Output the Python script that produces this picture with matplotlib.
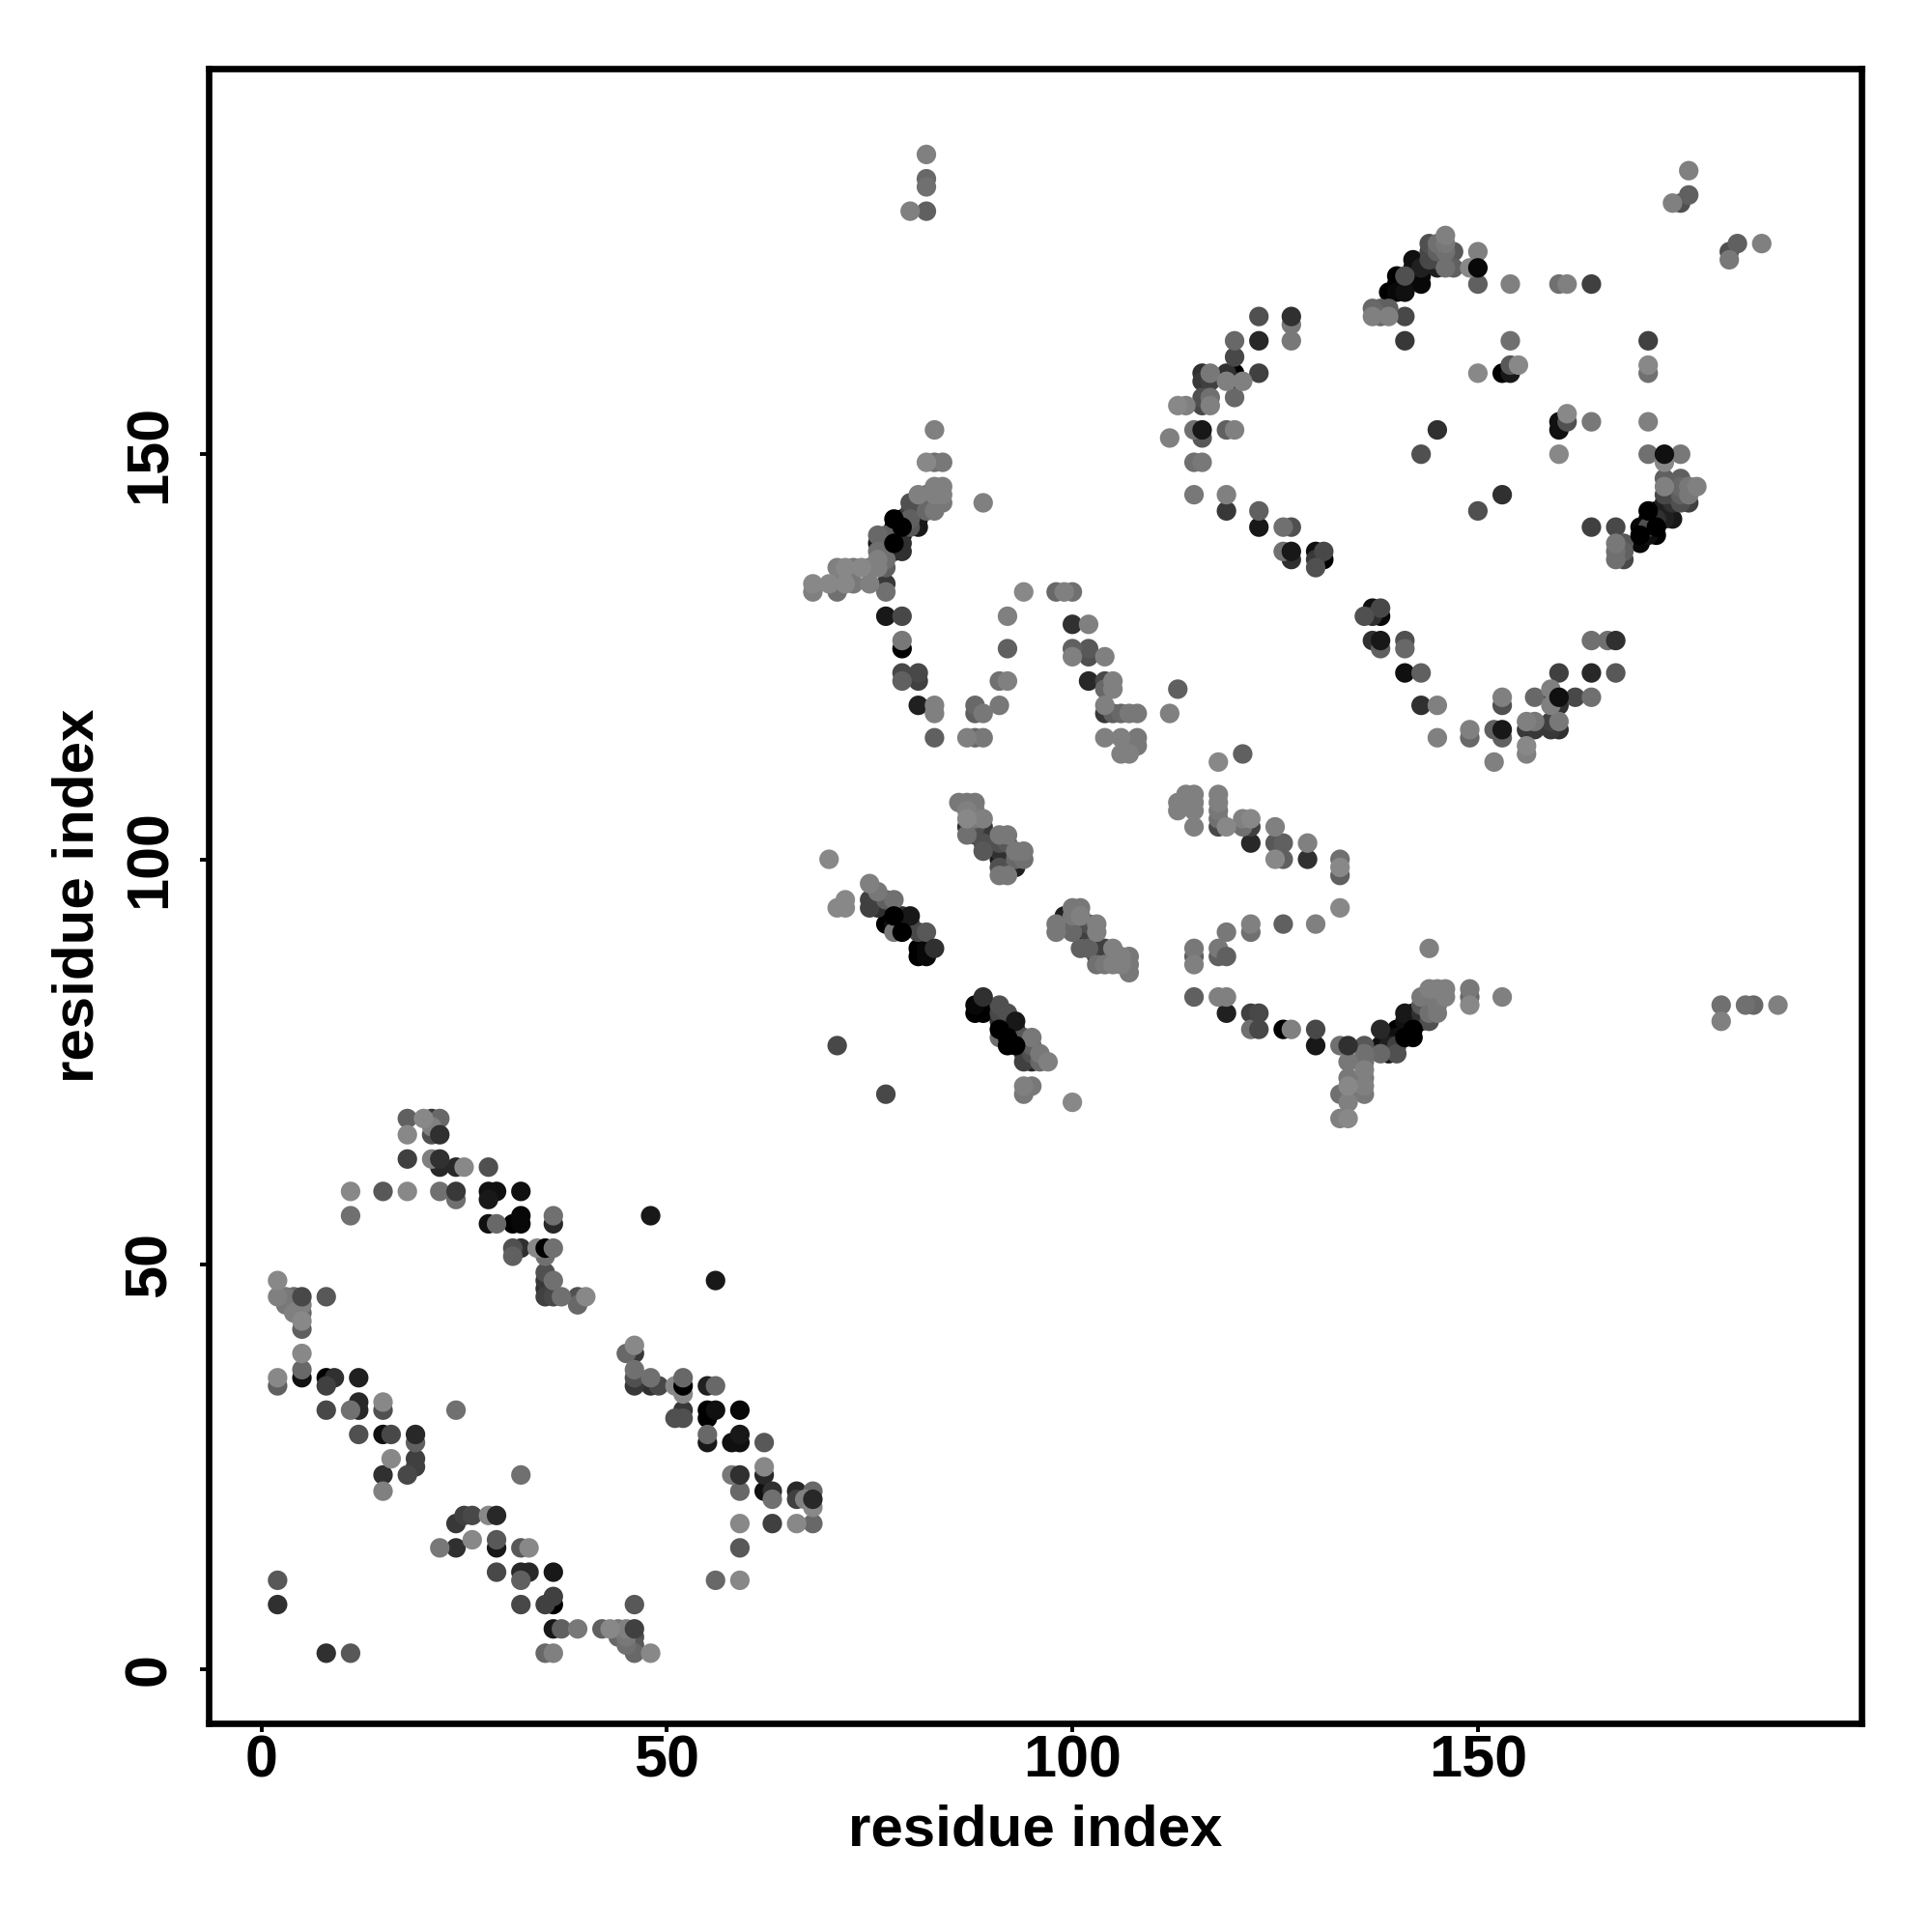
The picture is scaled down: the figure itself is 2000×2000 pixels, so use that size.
import numpy as np
import matplotlib
matplotlib.use('Agg')
import matplotlib.pyplot as plt

plt.rcParams['font.family'] = ['Liberation Sans', 'DejaVu Sans']

# (residue i, residue j, gray level of the point)
sheet_a = [
    (18,68,0x60),(20,68,0x88),(21,68,0x38),(22,68,0x68),(21,67,0x80),(18,66,0x88),(21,66,0x50),(22,66,0x30),
    (18,63,0x40),(21,63,0x80),(22,63,0x30),(22,62,0x28),(24,62,0x28),(25,62,0x88),(28,62,0x50),
    (11,59,0x88),(15,59,0x58),(18,59,0x88),(22,59,0x70),(24,59,0x38),(28,59,0x10),(29,59,0x10),(32,59,0x10),
    (24,58,0x70),(28,58,0x18),(11,56,0x70),(32,56,0x08),(36,56,0x70),(48,56,0x18),
    (28,55,0x10),(29,55,0x68),(31,55,0x00),(32,55,0x08),(36,55,0x28),
    (31,52,0x50),(32,52,0x30),(34,52,0x88),(35,52,0x00),(36,52,0x70),(31,51,0x60),(35,51,0x70),
    (35,49,0x50),(35,48,0x38),(36,48,0x70),(2,48,0x88),(56,48,0x18),(35,47,0x30),
    (2,46,0x80),(3,46,0x78),(4,46,0x68),(5,46,0x48),(8,46,0x58),(35,46,0x40),(36,46,0x48),(37,46,0x70),(39,46,0x50),(40,46,0x88),
    (3,45,0x78),(4,45,0x78),(5,45,0x80),(39,45,0x68),(4,44,0x80),(5,44,0x68),(5,43,0x88),(5,42,0x60),
]
sheet_b = [
    (5,39,0x88),(46,40,0x88),(45,39,0x68),(46,39,0x38),(5,37,0x68),(46,37,0x70),
    (2,36,0x88),(5,36,0x10),(8,36,0x00),(9,36,0x30),(12,36,0x20),(46,36,0x50),(48,36,0x70),(52,36,0x68),
    (2,35,0x60),(8,35,0x40),(46,35,0x38),(48,35,0x30),(49,35,0x48),(51,35,0x88),(52,35,0x00),(55,35,0x20),(56,35,0x68),
    (52,34,0x88),(12,33,0x28),(15,33,0x88),
    (8,32,0x48),(11,32,0x70),(12,32,0x28),(15,32,0x50),(24,32,0x70),(52,32,0x38),(55,32,0x00),(56,32,0x10),(59,32,0x08),
    (51,31,0x50),(52,31,0x50),(55,31,0x00),
    (12,29,0x50),(15,29,0x10),(16,29,0x48),(19,29,0x28),(55,29,0x68),(59,29,0x18),
    (19,28,0x60),(55,28,0x18),(58,28,0x10),(59,28,0x10),(62,28,0x58),
    (16,26,0x88),(19,26,0x40),(19,25,0x40),(62,25,0x88),
    (15,24,0x30),(18,24,0x48),(32,24,0x70),(58,24,0x78),(59,24,0x30),(62,24,0x28),
    (15,22,0x80),(59,22,0x68),(62,22,0x10),(63,22,0x30),(66,22,0x28),(68,22,0x68),
    (63,21,0x70),(66,21,0x40),(67,21,0x80),(68,21,0x28),(68,20,0x88),
]
sheet_c = [
    (25,19,0x40),(26,19,0x48),(28,19,0x88),(29,19,0x28),(24,18,0x38),(59,18,0x88),(63,18,0x40),(66,18,0x88),(68,18,0x68),
    (26,16,0x88),(29,16,0x58),(22,15,0x78),(24,15,0x30),(29,15,0x18),(32,15,0x58),(33,15,0x88),(59,15,0x58),
    (29,12,0x48),(32,12,0x28),(33,12,0x28),(36,12,0x18),(2,11,0x58),(32,11,0x60),(56,11,0x68),(59,11,0x88),
    (36,9,0x40),(2,8,0x30),(32,8,0x48),(35,8,0x40),(36,8,0x00),(46,8,0x58),
    (36,5,0x18),(37,5,0x60),(39,5,0x78),(42,5,0x60),(43,5,0x88),(44,5,0x78),(45,5,0x80),(46,5,0x40),
    (44,4,0x68),(45,4,0x78),(46,4,0x50),(45,3,0x70),(46,3,0x58),
    (8,2,0x30),(11,2,0x58),(35,2,0x68),(36,2,0x80),(46,2,0x68),(48,2,0x88),
]
helix_a = [
    (70,100,0x88),(75,97,0x80),(76,96,0x78),(77,95,0x60),(78,95,0x70),(72,95,0x88),(71,94,0x88),(72,94,0x88),
    (75,95,0x40),(75,94,0x40),(76,94,0x30),(80,93,0x18),(79,93,0x30),(78,93,0x00),
    (77,92,0x00),(78,92,0x10),(79,92,0x40),(80,92,0x40),(78,91,0x78),(79,91,0x00),(81,91,0x48),(82,91,0x58),
    (81,89,0x00),(82,89,0x08),(83,89,0x30),(81,88,0x00),(82,88,0x08),
    (86,107,0x78),(87,107,0x78),(88,107,0x78),(87,106,0x80),(88,106,0x78),(87,105,0x88),(89,105,0x80),(88,105,0x78),
    (87,104,0x30),(89,104,0x38),(88,104,0x50),(87,103,0x70),(88,103,0x40),(89,103,0x30),(91,103,0x78),(92,103,0x78),
    (89,102,0x50),(91,102,0x50),(92,102,0x58),(89,101,0x58),(91,101,0x30),(92,101,0x30),(93,101,0x78),(94,101,0x78),
    (91,100,0x18),(92,100,0x18),(93,100,0x68),(94,100,0x70),(91,99,0x50),(92,99,0x10),(93,99,0x20),(91,98,0x78),(92,98,0x78),
]
helix_b = [
    (100,94,0x78),(101,94,0x78),(99,93,0x20),(100,93,0x78),(101,93,0x80),(98,92,0x78),(99,92,0x28),(100,92,0x50),(102,92,0x50),(103,92,0x80),
    (98,91,0x78),(100,91,0x68),(101,91,0x10),(102,91,0x40),(103,91,0x80),(101,89,0x60),(102,89,0x60),(103,89,0x30),(104,89,0x40),(105,89,0x80),
    (103,88,0x30),(104,88,0x38),(106,88,0x80),(107,88,0x78),(103,87,0x70),(104,87,0x78),(105,87,0x80),(106,87,0x80),(107,87,0x78),(107,86,0x78),
    (89,83,0x30),(88,82,0x08),(89,82,0x00),(88,81,0x00),(89,81,0x00),(91,82,0x50),(91,81,0x48),(92,81,0x50),(93,80,0x18),(91,80,0x30),(92,80,0x40),
    (91,79,0x00),(92,79,0x10),(93,79,0x30),(91,78,0x70),(92,78,0x00),(93,78,0x08),(94,78,0x58),(95,78,0x78),
    (92,77,0x00),(93,77,0x00),(94,77,0x30),(95,77,0x60),(94,76,0x40),(95,76,0x50),(96,76,0x78),
    (94,75,0x40),(95,75,0x28),(96,75,0x68),(97,75,0x80),(94,72,0x80),(95,72,0x78),(94,71,0x78),(100,70,0x88),(71,77,0x48),(77,71,0x48),
]
loop_a = [
    (118,112,0x88),(121,113,0x60),(114,108,0x80),(115,108,0x80),(118,108,0x80),(113,107,0x80),(114,107,0x80),(115,107,0x80),(118,107,0x80),
    (113,106,0x80),(115,106,0x80),(118,106,0x78),(115,104,0x80),(118,105,0x70),(118,104,0x48),(119,104,0x88),
    (121,105,0x80),(122,105,0x88),(121,104,0x70),(122,104,0x40),(125,104,0x80),(122,102,0x28),(125,102,0x58),(126,102,0x60),(129,102,0x80),
    (125,100,0x88),(126,100,0x60),(129,100,0x30),(133,100,0x70),(133,99,0x88),(133,98,0x60),(133,94,0x88),
    (122,92,0x80),(122,91,0x70),(119,91,0x78),(126,92,0x60),(130,92,0x80),(115,89,0x78),(115,88,0x60),(115,87,0x80),
    (118,89,0x78),(118,88,0x60),(119,88,0x60),(144,89,0x80),(115,83,0x60),(118,83,0x80),(119,83,0x80),
    (149,84,0x78),(149,83,0x68),(149,82,0x88),(153,83,0x80),(119,81,0x20),(122,81,0x40),(123,81,0x48),
    (122,79,0x70),(123,79,0x48),(126,79,0x00),(127,79,0x80),(130,79,0x48),(130,77,0x18),(133,77,0x70),(134,77,0x30),(136,77,0x58),
]
strand_a = [
    (138,79,0x28),(140,79,0x00),(141,81,0x18),(142,81,0x10),(139,78,0x08),(140,78,0x10),(141,78,0x00),(142,78,0x00),
    (138,77,0x10),(139,77,0x20),(140,77,0x40),(139,76,0x18),(140,76,0x50),(138,76,0x68),(136,76,0x70),
    (134,75,0x78),(136,75,0x70),(136,74,0x80),(134,73,0x78),(136,73,0x78),(134,72,0x88),(136,72,0x80),
    (133,71,0x70),(134,71,0x60),(136,71,0x78),(134,70,0x80),(133,68,0x80),(134,68,0x88),
    (141,80,0x10),(143,80,0x28),(144,80,0x50),(142,79,0x00),(143,81,0x30),(144,81,0x70),(145,81,0x78),
    (143,82,0x58),(144,82,0x40),(145,82,0x78),(143,83,0x78),(144,83,0x50),(145,83,0x60),(146,83,0x80),(144,84,0x80),(145,84,0x80),(146,84,0x80),
    (180,82,0x70),(180,80,0x80),(183,82,0x70),(184,82,0x68),(187,82,0x80),
]
helix_c = [
    (83,153,0x80),(82,149,0x88),(83,149,0x70),(84,149,0x78),(84,146,0x80),(83,146,0x80),(81,145,0x80),(82,145,0x68),(83,145,0x80),(84,145,0x80),
    (80,144,0x50),(81,144,0x50),(82,144,0x50),(83,144,0x60),(84,144,0x78),(89,144,0x80),(80,143,0x40),(81,143,0x20),(83,143,0x78),(82,143,0x68),
    (78,142,0x00),(79,142,0x10),(80,142,0x60),(81,142,0x18),(78,141,0x08),(79,141,0x00),(80,141,0x58),(81,141,0x18),
    (76,140,0x68),(77,140,0x60),(78,140,0x08),(79,140,0x08),(76,139,0x18),(77,139,0x28),(78,139,0x00),(79,139,0x30),
    (76,138,0x70),(77,138,0x18),(78,138,0x28),(79,138,0x30),(71,136,0x80),(72,136,0x88),(73,136,0x78),(74,136,0x88),(75,136,0x78),(76,136,0x80),(77,136,0x60),
    (76,137,0x80),(77,137,0x70),(68,134,0x88),(68,133,0x80),(70,134,0x88),(71,134,0x68),(72,134,0x88),(73,134,0x78),(75,134,0x80),(77,134,0x38),(71,133,0x70),(77,133,0x70),
    (82,187,0x80),(82,184,0x68),(82,183,0x70),(80,180,0x80),(82,180,0x60),
]
hairpin_a = [
    (77,130,0x18),(79,130,0x48),(79,127,0x78),(79,126,0x00),(79,123,0x48),(81,123,0x48),(79,122,0x60),(81,122,0x40),
    (81,119,0x20),(83,119,0x80),(83,118,0x80),(83,115,0x60),(87,115,0x80),(88,115,0x68),(89,115,0x78),
    (88,119,0x68),(88,118,0x60),(89,118,0x78),(91,119,0x78),(91,122,0x70),(92,122,0x80),(92,126,0x60),(92,130,0x80),(94,133,0x88),
    (98,133,0x68),(99,133,0x80),(100,133,0x70),(100,129,0x30),(102,129,0x80),(100,126,0x60),(100,125,0x80),(102,126,0x58),(102,125,0x50),(104,125,0x80),
    (102,122,0x28),(104,122,0x48),(105,122,0x80),(104,121,0x68),(105,121,0x80),(104,119,0x80),(104,118,0x38),(105,118,0x60),(106,118,0x68),(107,118,0x78),(108,118,0x78),
    (104,115,0x80),(106,115,0x80),(108,115,0x78),(107,114,0x78),(108,114,0x78),(106,113,0x80),(107,113,0x80),(113,121,0x60),(112,118,0x80),
]
loop_b = [
    (176,185,0x80),(176,182,0x60),(175,181,0x50),(174,181,0x80),(185,176,0x80),(182,176,0x60),(181,175,0x50),(181,174,0x78),
    (146,177,0x80),(144,176,0x50),(145,176,0x70),(146,176,0x78),(144,175,0x48),(145,175,0x60),(147,175,0x58),(150,175,0x80),(146,175,0x70),
    (142,174,0x10),(144,174,0x48),(145,174,0x40),(142,173,0x08),(143,173,0x20),(145,173,0x20),(146,173,0x70),(147,173,0x60),(149,173,0x88),(150,173,0x08),
    (140,172,0x00),(141,172,0x50),(142,172,0x08),(143,172,0x08),(140,171,0x00),(141,171,0x08),(143,171,0x08),
    (150,171,0x60),(154,171,0x80),(160,171,0x70),(161,171,0x80),(164,171,0x40),(139,170,0x00),(140,170,0x08),(141,170,0x10),
    (137,168,0x68),(138,168,0x60),(139,168,0x60),(137,167,0x80),(138,167,0x68),(139,167,0x80),(141,167,0x48),
    (123,167,0x50),(127,167,0x30),(127,166,0x78),(120,164,0x68),(123,164,0x28),(127,164,0x78),(141,164,0x38),(154,164,0x70),(171,164,0x40),(120,162,0x48),
    (171,161,0x88),(171,160,0x70),(155,161,0x88),(154,161,0x58),(150,160,0x88),(153,160,0x00),(154,160,0x18),
    (116,160,0x30),(117,160,0x78),(119,160,0x30),(120,160,0x00),(123,160,0x40),(116,159,0x38),(117,159,0x40),(119,159,0x80),(120,159,0x10),(121,159,0x80),
    (116,157,0x50),(117,157,0x70),(120,157,0x68),(113,156,0x88),(114,156,0x80),(116,156,0x48),(117,156,0x80),
    (115,153,0x70),(116,153,0x18),(119,153,0x60),(120,153,0x80),(116,152,0x58),(112,152,0x80),(145,153,0x30),
    (161,155,0x88),(160,154,0x10),(161,154,0x50),(160,153,0x10),(164,154,0x78),(171,154,0x80),
]
loop_c = [
    (115,149,0x70),(116,149,0x78),(160,150,0x88),(143,150,0x50),(171,150,0x70),(173,150,0x10),(175,150,0x78),(173,149,0x88),
    (173,147,0x60),(175,147,0x60),(173,146,0x80),(175,146,0x68),(176,146,0x78),(177,146,0x80),
    (173,145,0x48),(174,145,0x48),(175,145,0x60),(176,145,0x78),(153,145,0x30),(115,145,0x78),(119,145,0x80),
    (173,144,0x20),(174,144,0x30),(176,144,0x40),(175,144,0x50),(119,143,0x38),(123,143,0x60),(150,143,0x50),
    (171,143,0x00),(172,143,0x10),(173,143,0x20),(171,142,0x00),(172,142,0x30),(174,142,0x18),(173,142,0x20),
    (170,141,0x08),(171,141,0x50),(172,141,0x00),(164,141,0x40),(167,141,0x48),(123,141,0x18),(126,141,0x70),(127,141,0x50),
    (170,140,0x00),(172,140,0x00),(171,140,0x10),(170,139,0x08),(168,139,0x58),(167,139,0x78),
    (167,138,0x70),(168,138,0x60),(126,138,0x70),(127,138,0x18),(130,138,0x10),(131,138,0x48),
    (167,137,0x70),(168,137,0x48),(127,137,0x30),(130,137,0x38),(131,137,0x00),(130,136,0x50),
]
loop_d = [
    (136,130,0x50),(137,131,0x10),(138,131,0x48),(137,130,0x30),(138,130,0x08),(137,127,0x30),(138,127,0x18),(138,126,0x60),(141,127,0x50),(141,126,0x68),
    (141,123,0x10),(143,123,0x60),(143,119,0x30),(145,119,0x80),(145,115,0x80),(149,116,0x80),(149,115,0x68),
    (152,116,0x60),(153,116,0x18),(153,115,0x60),(153,120,0x80),(153,119,0x50),(152,112,0x80),
    (156,117,0x80),(157,117,0x78),(156,116,0x38),(157,116,0x38),(156,114,0x88),(156,113,0x80),
    (157,120,0x68),(159,121,0x80),(159,120,0x08),(160,120,0x10),(162,120,0x48),(164,120,0x70),(159,119,0x80),(160,119,0x30),
    (159,117,0x40),(160,117,0x78),(159,116,0x38),(160,116,0x30),(160,123,0x40),(164,123,0x28),(167,123,0x58),
    (164,127,0x70),(166,127,0x70),(167,127,0x30),
]
# dark points that sit over their lighter neighbours in the picture, in drawing order
drawn_last = [
    (19,29),(29,19),(24,59),(52,35),(52,36),(59,24),(68,21),(46,5),(5,46),(35,52),(36,52),(22,66),(22,63),
    (150,173),(116,153),(127,167),(127,138),(173,150),(138,127),(153,116),(160,120),(167,127),
    (134,77),(123,81),(123,79),(119,88),(80,93),(83,89),(89,83),(93,80),(145,153),(78,93),(79,91),
    (91,79),(92,78),(92,77),(93,77),(141,78),(142,78),(142,79),(78,142),(79,141),(78,139),(171,143),(172,141),(170,140),
]
tick_values = [0, 50, 100, 150]

contacts = np.array(sheet_a + sheet_b + sheet_c + helix_a + helix_b + loop_a + strand_a
                    + helix_c + hairpin_a + loop_b + loop_c + loop_d)
# darker points go down first, most overlaps in the picture have the light one on top
rank = np.argsort(contacts[:, 2], kind='stable')
order = [i for i in rank if (contacts[i, 0], contacts[i, 1]) not in drawn_last]
for x, y in drawn_last:
    order.extend(np.where((contacts[:, 0] == x) & (contacts[:, 1] == y))[0])
contacts = contacts[order]

fig = plt.figure(figsize=(10, 10), dpi=200)
ax = fig.add_axes([216 / 2000, 1 - 1783.5 / 2000, (1927 - 216) / 2000, (1783.5 - 71) / 2000])
ax.scatter(contacts[:, 0], contacts[:, 1], c=contacts[:, 2] / 255, cmap='gray', vmin=0, vmax=1,
           s=53, linewidths=0)

ax.set_xlim(-6.5, 197.3)
ax.set_ylim(-6.6, 197.6)
ax.set_xticks(tick_values)
ax.set_yticks(tick_values)
ax.tick_params(axis='both', length=3.3, width=1.4, color='black')
ax.tick_params(axis='x', pad=1)
ax.tick_params(axis='y', pad=8)
for label in ax.get_xticklabels():
    label.set_fontsize(22)
    label.set_fontweight('bold')
for label in ax.get_yticklabels():
    label.set_fontsize(22)
    label.set_fontweight('bold')
    label.set_rotation(90)
    label.set_va('center')
for side in ax.spines.values():
    side.set_linewidth(2.4)

fig.text(0.5357, 1 - 1895 / 2000, 'residue index', ha='center', va='center', fontsize=21.6, fontweight='bold')
fig.text(81 / 2000, 1 - 927 / 2000, 'residue index', ha='center', va='center', rotation=90, fontsize=21.6, fontweight='bold')

fig.savefig('out.png', dpi=200)
